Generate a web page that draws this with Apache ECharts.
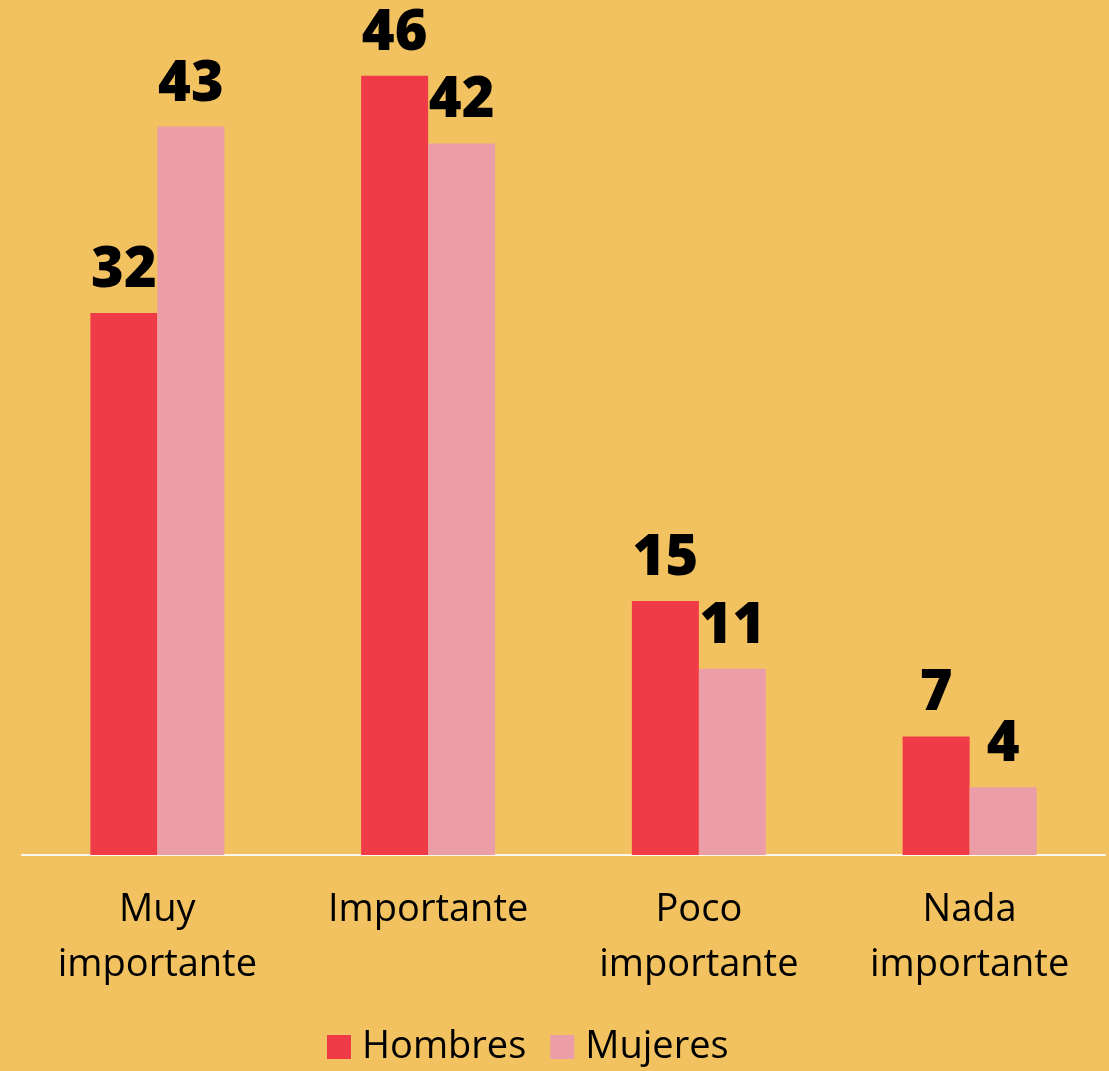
<!DOCTYPE html>
<html>
<head>
<meta charset="utf-8">
<style>
html, body {
  margin: 0;
  padding: 0;
  width: 100%;
  height: 100%;
  background-color: #F1C25F;
}
#chart {
  width: 1109px;
  height: 1071px;
}
</style>
<script src="https://cdn.jsdelivr.net/npm/echarts@6/dist/echarts.min.js"></script>
</head>
<body>
<div id="chart"></div>
<script>
const categories = ['Muy\nimportante', 'Importante', 'Poco\nimportante', 'Nada\nimportante']
const hombres = [32, 46, 15, 7]
const mujeres = [43, 42, 11, 4]

const chart = echarts.init(document.getElementById('chart'))

const labelStyle = {
  show: true,
  position: 'top',
  distance: 14,
  color: '#000000',
  fontFamily: 'Open Sans',
  fontWeight: 800,
  fontSize: 56
}

const option = {
  backgroundColor: '#F1C25F',
  animation: false,
  grid: {
    left: 22,
    right: 4,
    top: 8,
    bottom: 216
  },
  legend: {
    bottom: 0,
    left: 322,
    itemWidth: 24,
    itemHeight: 24,
    itemGap: 24,
    icon: 'rect',
    textStyle: {
      color: '#000000',
      fontFamily: 'Open Sans',
      fontSize: 38,
      padding: [4, 0, 0, 6]
    },
    data: ['Hombres', 'Mujeres']
  },
  xAxis: {
    type: 'category',
    data: categories,
    axisTick: { show: false },
    axisLine: {
      lineStyle: { color: '#FFF8EC', width: 2 }
    },
    axisLabel: {
      color: '#000000',
      fontFamily: 'Open Sans',
      fontSize: 38,
      lineHeight: 55,
      margin: 28,
      interval: 0
    }
  },
  yAxis: {
    type: 'value',
    min: 0,
    max: 50,
    show: false,
    splitLine: { show: false }
  },
  series: [
    {
      name: 'Hombres',
      type: 'bar',
      data: hombres,
      barWidth: 67,
      barGap: '0%',
      itemStyle: { color: '#EF3A48' },
      label: labelStyle
    },
    {
      name: 'Mujeres',
      type: 'bar',
      data: mujeres,
      barWidth: 67,
      barGap: '0%',
      itemStyle: { color: '#EC9EA8' },
      label: labelStyle
    }
  ]
}

chart.setOption(option)
</script>
</body>
</html>
